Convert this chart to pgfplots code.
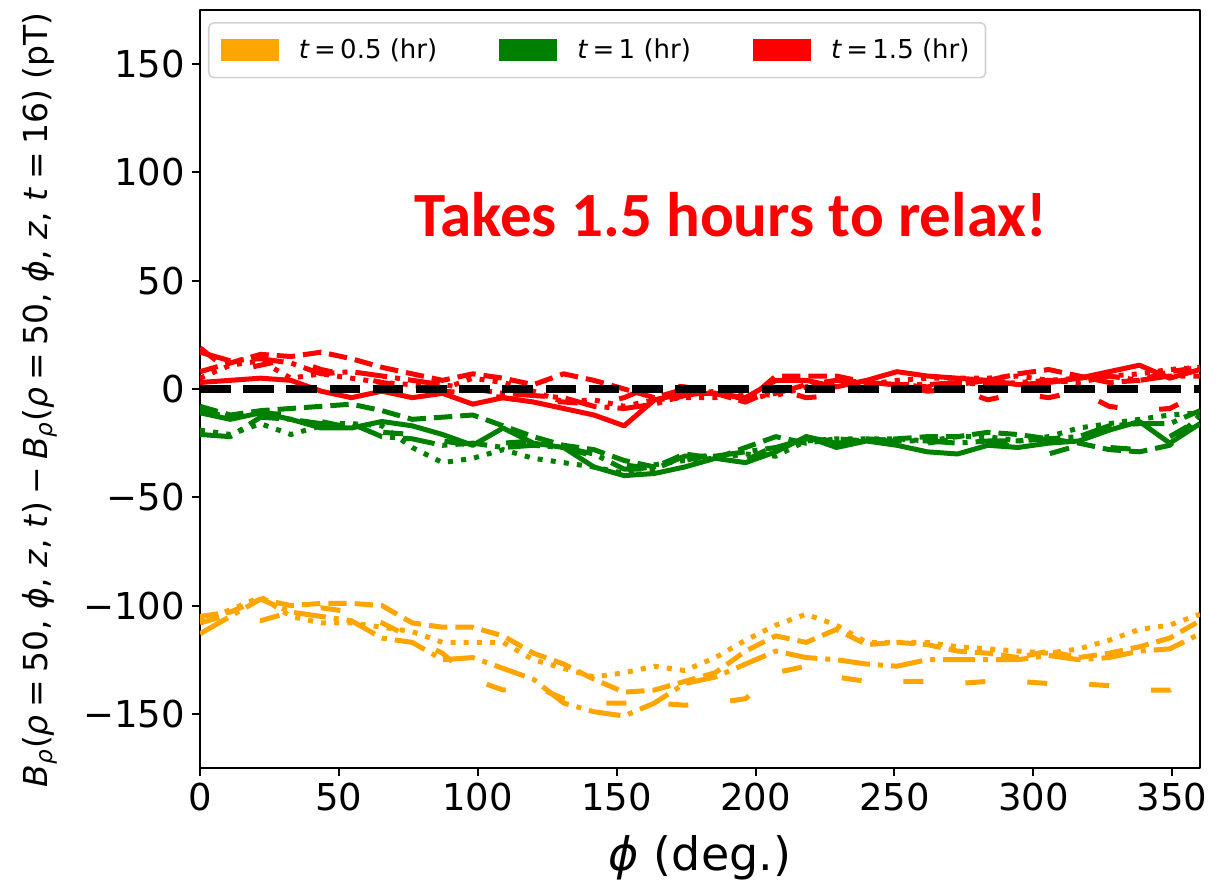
\documentclass[border=0pt]{standalone}
\usepackage{fontspec}
\setmainfont{DejaVu Sans}
\newfontfamily\calib{Carlito}
\usepackage{pgfplots}
\pgfplotsset{compat=1.18}
\usepackage{pgfplotstable}
\usetikzlibrary{calc}

\definecolor{cOrange}{HTML}{FFA500}
\definecolor{cGreen}{HTML}{008000}
\definecolor{cRed}{HTML}{FF0000}

% columns: a = solid, b = dashed, c = dotted, d = dash-dot, e = loosely dashed
\pgfplotstableread{
phi    b     c     d     e
0.0   -105  -107  -113  -108
10.9  -103  -102  -105  -104
21.8   -97   -96   -97  -107
32.7  -100  -105  -103  -103
43.6   -99  -108  -105  -101
54.5   -99  -108  -107  -103
65.5  -100  -110  -115  -108
76.4  -108  -112  -117  -115
87.3  -110  -117  -125  -122
98.2  -110  -117  -124  -134
109.1 -114  -117  -129  -139
120.0 -122  -125  -134  -137
130.9 -127  -129  -145  -143
141.8 -134  -133  -149  -145
152.7 -140  -131  -151  -145
163.6 -139  -128  -145  -145
174.5 -135  -130  -136  -146
185.5 -131  -124  -133  -145
196.4 -121  -116  -127  -143
207.3 -114  -109  -121  -131
218.2 -117  -104  -124  -128
229.1 -111  -109  -125  -133
240.0 -118  -117  -127  -135
250.9 -117  -117  -128  -135
261.8 -118  -117  -125  -135
272.7 -121  -119  -125  -136
283.6 -122  -120  -125  -135
294.5 -124  -121  -125  -135
305.5 -121  -122  -123  -136
316.4 -124  -120  -125  -136
327.3 -122  -116  -124  -137
338.2 -119  -111  -121  -139
349.1 -115  -109  -120  -139
360.0 -107  -104  -113  -132
}\tabOrange

\pgfplotstableread{
phi    a    b    c    d    e
0.0   -11   -8  -19  -21  -10
10.9  -14  -12  -21  -22  -13
21.8  -11  -10  -16  -13  -11
32.7  -14   -9  -21  -14  -12
43.6  -18   -8  -17  -16  -15
54.5  -18   -7  -16  -16  -18
65.5  -15  -10  -17  -22  -20
76.4  -17  -14  -27  -23  -21
87.3  -21  -13  -34  -26  -24
98.2  -26  -12  -32  -25  -26
109.1 -18  -17  -28  -27  -25
120.0 -25  -22  -32  -26  -24
130.9 -27  -26  -34  -27  -27
141.8 -36  -28  -36  -30  -31
152.7 -40  -33  -39  -37  -35
163.6 -39  -36  -35  -37  -37
174.5 -36  -30  -33  -31  -33
185.5 -32  -32  -32  -31  -30
196.4 -34  -27  -30  -29  -33
207.3 -29  -22  -31  -27  -26
218.2 -22  -25  -24  -23  -22
229.1 -27  -23  -23  -25  -25
240.0 -24  -24  -23  -24  -23
250.9 -26  -23  -23  -24  -24
261.8 -29  -22  -24  -24  -25
272.7 -30  -22  -22  -25  -23
283.6 -26  -20  -22  -24  -26
294.5 -27  -21  -24  -24  -26
305.5 -25  -23  -22  -23  -30
316.4 -24  -25  -18  -22  -26
327.3 -19  -28  -16  -17  -27
338.2 -15  -29  -14  -16  -28
349.1 -25  -26  -12  -16  -22
360.0 -16  -12  -11  -10  -14
}\tabGreen

\pgfplotstableread{
phi    a    b    c    d    e
0.0     3    8    5   17   19
10.9    4   12   11   13    8
21.8    5   16   13   14   11
32.7    4   15    5   12   14
43.6   -1   17    7    7    9
54.5   -4   14    5    8    6
65.5   -1   10    3    6    3
76.4   -4    7    2    4    1
87.3   -2    4    0    2   -1
98.2   -7    7    5    0   -2
109.1  -4    5    3   -2   -4
120.0  -6    2   -1   -3   -6
130.9  -9    7   -6   -4   -6
141.8 -12    4   -5   -8   -7
152.7 -17    0   -8   -9   -4
163.6  -5   -4   -5   -7    2
174.5  -2    0   -4   -3    1
185.5  -2   -2   -4   -1   -2
196.4  -4   -6   -2   -5   -6
207.3   4    6   -3   -2    0
218.2   4    6    1    2   -4
229.1   1    6    3    4   -3
240.0   4    3    2    3    0
250.9   8    2    4    2    2
261.8   6    1    5    2   -1
272.7   5    2    5    3    0
283.6   4    4    5    2   -5
294.5   2    7    6    3   -2
305.5   3    9    4    4   -4
316.4   5    6    5    3   -1
327.3   8    3    6    6   -8
338.2  11    4    7    4  -10
349.1   5    8    9    6   -9
360.0   9   10   10    6   -2
}\tabRed

\begin{document}
\begin{tikzpicture}
\begin{axis}[
  name=ax,
  width=500pt, height=379pt, scale only axis,
  xmin=0, xmax=360, ymin=-175, ymax=175,
  xtick={0,50,100,150,200,250,300,350},
  xticklabels={0,50,100,150,200,250,300,350},
  ytick={-150,-100,-50,0,50,100,150},
  yticklabels={−150,−100,−50,0,50,100,150},
  tick align=outside, tick pos=left,
  major tick length=4pt,
  every tick/.style={black, line width=1pt},
  axis line style={black, line width=1.3pt},
  tick label style={font=\fontsize{18.5}{22}\selectfont},
  xlabel={\textit{ϕ} (deg.)},
  xlabel style={at={(rel axis cs:0.5,-0.1346)}, anchor=base,
    font=\fontsize{23}{27}\selectfont},
  ylabel={\textit{B}\textsubscript{\textit{ρ}}(\textit{ρ}\:=\:50, \textit{ϕ}, \textit{z}, \textit{t})\:−\:\textit{B}\textsubscript{\textit{ρ}}(\textit{ρ}\:=\:50, \textit{ϕ}, \textit{z}, \textit{t}\:=\:16) (pT)},
  ylabel style={at={(rel axis cs:-0.16,0.4855)}, anchor=center,
    font=\fontsize{16.5}{20}\selectfont},
  legend columns=3,
  legend style={at={(rel axis cs:0,1)}, anchor=north west,
    xshift=4pt, yshift=-6pt,
    draw=black!18, line width=0.8pt, rounded corners=2.5pt,
    inner xsep=6pt, inner ysep=6pt,
    font=\fontsize{13}{15}\selectfont,
    /tikz/every odd column/.append style={column sep=8pt},
    /tikz/every even column/.append style={column sep=29pt},
    cells={anchor=west}},
  line join=round,
  solidline/.style={line width=2.5pt, solid},
  dashline/.style={line width=2.5pt, dash pattern=on 9.2pt off 4pt},
  dotline/.style={line width=2.5pt, dash pattern=on 2.5pt off 4.1pt},
  dashdotline/.style={line width=2.5pt, dash pattern=on 16pt off 4pt on 2.5pt off 4pt},
  loosedashline/.style={line width=2.5pt, dash pattern=on 10pt off 21pt},
]
% t = 0.5 hr
\addplot[cOrange, dashline, forget plot] table[x=phi, y=b] {\tabOrange};
\addplot[cOrange, dotline, forget plot] table[x=phi, y=c] {\tabOrange};
\addplot[cOrange, dashdotline, forget plot] table[x=phi, y=d] {\tabOrange};
\addplot[cOrange, loosedashline, forget plot] table[x=phi, y=e] {\tabOrange};
% t = 1 hr
\addplot[cGreen, solidline, forget plot] table[x=phi, y=a] {\tabGreen};
\addplot[cGreen, dashline, forget plot] table[x=phi, y=b] {\tabGreen};
\addplot[cGreen, dotline, forget plot] table[x=phi, y=c] {\tabGreen};
\addplot[cGreen, dashdotline, forget plot] table[x=phi, y=d] {\tabGreen};
\addplot[cGreen, loosedashline, forget plot] table[x=phi, y=e] {\tabGreen};
% t = 1.5 hr
\addplot[cRed, solidline, forget plot] table[x=phi, y=a] {\tabRed};
\addplot[cRed, dashline, forget plot] table[x=phi, y=b] {\tabRed};
\addplot[cRed, dotline, forget plot] table[x=phi, y=c] {\tabRed};
\addplot[cRed, dashdotline, forget plot] table[x=phi, y=d] {\tabRed};
\addplot[cRed, loosedashline, forget plot] table[x=phi, y=e] {\tabRed};
% reference level
\addplot[black, line width=4.2pt, dash pattern=on 15.3pt off 6.3pt, forget plot]
  coordinates {(0,0) (360,0)};

\addlegendimage{legend image code/.code={\fill[cOrange, sharp corners, draw=none] (0pt,-5.5pt) rectangle (29pt,5.5pt);}}
\addlegendentry{\textit{t}\,=\,0.5 (hr)}
\addlegendimage{legend image code/.code={\fill[cGreen, sharp corners, draw=none] (0pt,-5.5pt) rectangle (29pt,5.5pt);}}
\addlegendentry{\textit{t}\,=\,1 (hr)}
\addlegendimage{legend image code/.code={\fill[cRed, sharp corners, draw=none] (0pt,-5.5pt) rectangle (29pt,5.5pt);}}
\addlegendentry{\textit{t}\,=\,1.5 (hr)}

\node[anchor=base, text=cRed, font={\calib\bfseries\fontsize{31.5}{36}\selectfont}]
  at (axis cs:191,70.4) {Takes 1.5 hours to relax!};
\end{axis}
\pgfresetboundingbox
\path ($(ax.south west)+(-100pt,-56pt)$) rectangle ($(ax.north east)+(16pt,5pt)$);
\end{tikzpicture}
\end{document}
